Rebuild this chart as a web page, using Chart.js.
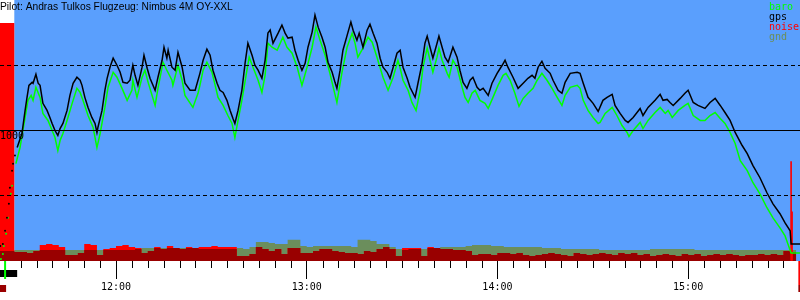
<!DOCTYPE html>
<html>
<head>
<meta charset="utf-8">
<script src="https://cdn.jsdelivr.net/npm/chart.js@4.4.1/dist/chart.umd.min.js"></script>
<style>
  html, body { margin: 0; padding: 0; background: #fff; }
  canvas { display: block; }
</style>
</head>
<body>
<canvas id="baro" width="800" height="300"></canvas>
<script>
// barogram, times are minutes since midnight, heights in metres
const title = 'Pilot: Andras Tulkos Flugzeug: Nimbus 4M OY-XXL';
const legendNames = ['baro', 'gps', 'noise', 'gnd'];

const gps = [
  [688.9,869],[690.4,977],[691.4,1154],[692.0,1254],[692.6,1346],[693.6,1369],[693.9,1362],[694.8,1431],[695.5,1362],[696.1,1346],
  [696.7,1254],[697.0,1208],[698.3,1154],[699.2,1100],[699.9,1054],[700.8,1000],[701.7,962],[702.4,1015],[703.3,1054],[704.6,1154],
  [705.5,1269],[706.5,1362],[707.7,1408],[708.7,1385],[709.3,1346],[710.2,1254],[711.2,1177],[712.4,1100],[713.4,1054],[714.0,985],
  [714.3,1023],[715.6,1154],[716.5,1308],[717.2,1400],[718.1,1485],[719.1,1554],[720.3,1500],[721.3,1446],[722.2,1369],[723.5,1362],
  [724.4,1385],[725.3,1500],[726.0,1423],[726.9,1346],[728.2,1485],[728.8,1577],[729.8,1477],[730.7,1400],[732.3,1308],[733.2,1408],
  [734.5,1538],[735.1,1638],[736.0,1554],[736.4,1615],[737.6,1485],[738.6,1462],[739.5,1600],[740.8,1485],[741.7,1362],[743.3,1308],
  [744.9,1308],[746.4,1438],[747.4,1538],[748.6,1623],[749.6,1577],[750.5,1462],[751.8,1362],[752.7,1308],[753.7,1292],[754.9,1231],
  [755.9,1154],[756.8,1092],[757.4,1054],[758.4,1154],[759.6,1308],[760.6,1515],[761.5,1669],[762.8,1577],[763.7,1500],[764.7,1462],
  [765.9,1400],[766.9,1538],[767.8,1746],[768.5,1769],[769.4,1669],[771.0,1746],[772.2,1808],[773.2,1746],[774.1,1708],[775.4,1715],
  [776.3,1615],[777.3,1538],[778.5,1462],[779.5,1515],[780.4,1638],[781.7,1754],[782.6,1885],[783.6,1792],[784.8,1715],[785.8,1638],
  [786.7,1523],[788.0,1446],[788.9,1369],[789.5,1323],[790.5,1462],[791.4,1615],[793.0,1754],[793.9,1831],[794.6,1769],[795.8,1692],
  [796.5,1746],[797.7,1638],[799.0,1769],[799.9,1815],[800.9,1746],[802.1,1669],[803.1,1554],[804.0,1485],[805.3,1446],[806.2,1400],
  [807.2,1485],[808.4,1592],[809.4,1615],[810.3,1485],[811.6,1400],[812.5,1331],[814.1,1254],[815.0,1362],[816.3,1515],[817.2,1669],
  [817.9,1723],[818.8,1638],[819.7,1554],[821.0,1669],[821.6,1723],[822.6,1638],[823.5,1562],[824.5,1523],[825.7,1615],[826.0,1638],
  [827.3,1562],[828.2,1462],[829.2,1369],[830.4,1323],[831.4,1385],[832.3,1408],[833.6,1331],[834.5,1308],[835.5,1323],[837.1,1269],
  [838.3,1362],[839.9,1438],[841.5,1500],[842.4,1538],[843.3,1485],[844.9,1408],[846.5,1323],[848.1,1362],[849.6,1400],[850.9,1423],
  [851.8,1400],[852.8,1485],[854.0,1531],[855.0,1477],[856.6,1438],[857.5,1385],[859.1,1308],[860.3,1285],[861.3,1369],[862.9,1438],
  [865.1,1446],[866.0,1438],[867.0,1362],[868.5,1254],[870.1,1208],[871.7,1146],[873.2,1231],[874.5,1254],[876.1,1277],[877.0,1192],
  [878.6,1131],[880.2,1077],[881.1,1062],[882.7,1100],[884.9,1169],[885.8,1115],[887.4,1177],[889.6,1231],[891.2,1277],[892.1,1231],
  [893.4,1238],[894.3,1215],[895.3,1192],[897.5,1246],[899.0,1285],[900.0,1308],[901.6,1215],[903.1,1192],[905.3,1169],[906.9,1215],
  [908.5,1246],[910.1,1192],[911.6,1138],[913.2,1077],[914.8,985],[917.0,885],[918.6,823],[920.4,731],[922.6,638],[924.8,523],
  [926.7,438],[928.9,362],[930.5,292],[932.1,231],[932.4,131],[935.2,131]
];

const baro = [
  [688.5,746],[689.8,869],[691.4,1100],[692.3,1231],[693.3,1269],[693.9,1231],[694.8,1331],[696.1,1254],[697.0,1131],[698.6,1077],
  [699.9,1000],[700.8,946],[701.7,846],[702.4,923],[703.3,977],[704.6,1077],[706.2,1208],[707.7,1323],[708.7,1292],[709.6,1231],
  [711.2,1115],[712.8,1023],[714.0,869],[715.0,977],[716.5,1177],[717.5,1331],[719.1,1446],[720.3,1408],[721.9,1323],[723.5,1231],
  [725.0,1308],[725.3,1385],[726.6,1254],[728.2,1408],[729.1,1462],[730.1,1369],[732.3,1192],[733.2,1323],[734.8,1523],[736.0,1462],
  [737.6,1385],[737.9,1346],[739.5,1500],[740.8,1385],[741.7,1269],[744.2,1177],[745.8,1285],[746.4,1346],[747.4,1462],[748.6,1523],
  [750.2,1446],[751.2,1346],[752.1,1254],[753.7,1192],[755.2,1115],[756.5,1054],[757.4,946],[758.4,1077],[759.6,1231],[761.2,1462],
  [761.9,1562],[763.1,1485],[764.7,1385],[765.9,1292],[766.9,1423],[767.8,1669],[769.1,1638],[770.7,1615],[772.5,1715],[773.8,1638],
  [775.4,1592],[777.0,1485],[778.5,1346],[780.1,1485],[781.7,1638],[782.9,1792],[784.2,1692],[785.8,1577],[787.3,1438],[789.5,1215],
  [791.1,1446],[792.7,1638],[794.3,1746],[795.2,1669],[796.1,1562],[797.7,1631],[799.3,1715],[800.6,1677],[802.1,1562],[804.0,1408],
  [805.6,1308],[807.2,1408],[808.7,1538],[809.4,1477],[810.3,1385],[811.9,1308],[813.1,1215],[814.4,1154],[815.7,1308],[816.6,1485],
  [817.9,1631],[818.8,1538],[819.7,1446],[821.0,1562],[821.6,1631],[822.6,1538],[824.2,1438],[824.8,1408],[826.0,1538],[827.3,1485],
  [828.9,1331],[829.8,1254],[830.8,1215],[832.0,1285],[833.0,1308],[834.5,1231],[836.1,1208],[837.1,1169],[838.6,1254],[840.2,1346],
  [841.8,1423],[842.7,1438],[844.0,1385],[845.5,1285],[846.8,1185],[848.1,1246],[849.6,1285],[851.2,1323],[852.5,1385],[854.0,1438],
  [855.6,1385],[857.2,1323],[858.8,1254],[860.3,1192],[861.3,1269],[862.9,1331],[865.1,1346],[866.0,1323],[867.0,1231],[868.5,1154],
  [870.1,1100],[871.7,1054],[872.3,1062],[873.9,1131],[876.1,1177],[877.6,1115],[879.2,1038],[880.8,985],[881.4,954],[882.7,1000],
  [884.9,1062],[885.8,1015],[887.4,1077],[889.6,1138],[891.2,1177],[892.8,1131],[893.7,1154],[895.0,1100],[896.9,1154],[899.0,1192],
  [900.0,1208],[901.6,1115],[903.8,1077],[905.3,1077],[906.9,1115],[908.5,1138],[910.1,1092],[911.6,1054],[913.2,985],[914.8,900],
  [916.4,769],[918.6,692],[920.4,600],[922.6,515],[924.8,408],[926.7,331],[928.9,254],[930.5,192],[931.4,131],[932.4,62],[935.2,62]
];

// sparse fixes during the engine climb, drawn as dots
const climbGps = [[683.6,115],[684.4,131],[685.1,231],[685.7,331],[686.3,438],[686.6,562],[687.3,692],[687.6,746],[688.2,808]];
const climbBaro = [[683.8,15],[684.4,54],[684.7,115],[685.4,208],[686.0,331],[686.9,515],[687.3,577]];

// noise and ground, one sample every 2 minutes from 11:22
const sampleStart = 682;
const sampleStep = 2;
const noise = [
  1823,1823,1823,69,69,62,77,123,131,123,
  108,46,46,62,131,123,46,92,100,115,
  123,108,100,62,77,108,92,115,100,92,
  108,100,108,108,115,108,108,108,38,38,
  54,108,92,77,92,54,100,100,62,62,
  77,92,92,77,69,62,62,54,77,69,
  92,108,92,38,100,100,100,38,108,100,
  92,92,85,85,77,46,54,54,46,62,
  62,54,62,46,38,46,54,62,54,46,
  38,62,54,46,54,62,54,46,62,54,
  62,46,54,38,46,54,46,38,54,46,
  54,38,46,54,46,54,46,38,46,46,
  54,46,54,46,77,69,54
];
const gnd = [
  77,77,77,85,85,85,85,85,85,85,
  85,85,85,85,85,85,85,85,85,85,
  85,85,92,100,100,100,100,100,100,100,
  100,100,92,92,92,92,92,92,100,92,
  108,146,146,138,131,131,162,162,115,108,
  115,115,115,115,115,115,108,162,162,154,
  131,131,108,92,85,92,92,92,100,100,
  108,108,108,108,115,123,123,123,115,115,
  108,108,108,108,108,108,100,100,100,92,
  92,92,92,92,92,85,85,85,85,85,
  85,85,85,92,92,92,92,92,92,92,
  85,85,85,85,85,85,85,85,85,85,
  85,85,85,85,85,85,85
];
// noise burst at landing
const noiseSpike = [[932.4,762],[932.7,377]];

const viewStart = 683.5, viewEnd = 935.2;
const flightStart = 688;          // blue background starts here
const engineRun = [683.5, 688.9]; // bar under the axis
const takeoffAt = 685.1;
const landingAt = 935;

const BLUE = '#5a9ffd', OLIVE = '#6b8e5c', DARKRED = '#990000';

const pairs = arr => arr.map(p => ({x: p[0], y: p[1]}));
const sampled = arr => arr.map((v, i) => ({x: sampleStart + i * sampleStep, y: v}));
const overlap = noise.map((v, i) => Math.min(v, gnd[i]));

const fmtTime = v => Math.floor(v / 60) + ':' + String(v % 60).padStart(2, '0');

const barogram = {
  id: 'barogram',
  beforeDraw(chart) {
    const {ctx, chartArea: a, scales: {x}} = chart;
    ctx.save();
    ctx.fillStyle = '#fff';
    ctx.fillRect(0, 0, chart.width, chart.height);
    const x0 = x.getPixelForValue(flightStart);
    ctx.fillStyle = BLUE;
    ctx.fillRect(x0, a.top, a.right - x0, a.bottom - a.top);
    ctx.restore();
  },
  afterDraw(chart) {
    const {ctx, chartArea: a, scales: {x}} = chart;
    ctx.save();
    // minor ticks every 5 minutes
    ctx.strokeStyle = '#000';
    ctx.lineWidth = 1;
    ctx.beginPath();
    for (let m = Math.ceil(viewStart / 5) * 5; m <= viewEnd; m += 5) {
      if (m % 60 === 0) continue;
      const px = Math.round(x.getPixelForValue(m)) + 0.5;
      ctx.moveTo(px, a.bottom);
      ctx.lineTo(px, a.bottom + 7);
    }
    ctx.stroke();

    // engine / takeoff / landing marks under the axis
    const e0 = x.getPixelForValue(engineRun[0]), e1 = x.getPixelForValue(engineRun[1]);
    ctx.fillStyle = '#000';
    ctx.fillRect(e0, a.bottom + 9, e1 - e0, 7);
    ctx.fillStyle = DARKRED;
    ctx.fillRect(e0, a.bottom + 24, x.getPixelForValue(takeoffAt) - e0 + 1, 7);
    ctx.fillStyle = '#00ff00';
    ctx.fillRect(x.getPixelForValue(takeoffAt) - 1, a.bottom, 2, 18);
    ctx.fillStyle = '#ff0000';
    ctx.fillRect(x.getPixelForValue(landingAt) - 1, a.bottom, 2, 24);
    ctx.fillStyle = DARKRED;
    ctx.fillRect(x.getPixelForValue(landingAt) - 1, a.bottom + 24, 2, 7);

    // title
    ctx.fillStyle = '#000';
    ctx.font = '10.25px "Liberation Sans", Arial, sans-serif';
    ctx.textBaseline = 'alphabetic';
    ctx.textAlign = 'left';
    ctx.fillText(title, 0, 10);

    // legend
    ctx.font = '10px "DejaVu Sans Mono", monospace';
    legendNames.forEach((name, i) => {
      const ds = chart.data.datasets.find(d => d.label === name);
      ctx.fillStyle = ds.legendColor;
      ctx.fillText(name, 769, 10 + i * 10);
    });
    ctx.restore();
  }
};

Chart.defaults.font.family = '"DejaVu Sans Mono", monospace';
Chart.defaults.font.size = 10;
Chart.defaults.color = '#000';

new Chart(document.getElementById('baro'), {
  type: 'line',
  data: {
    datasets: [
      {label: 'gps', legendColor: '#000', data: pairs(gps), borderColor: '#000', borderWidth: 1.5, pointRadius: 0, tension: 0},
      {label: 'baro', legendColor: '#00ff00', data: pairs(baro), borderColor: '#00ff00', borderWidth: 1.5, pointRadius: 0, tension: 0},
      {label: 'gpsClimb', data: pairs(climbGps), showLine: false, pointRadius: 1, pointBorderWidth: 0, pointBackgroundColor: '#000'},
      {label: 'baroClimb', data: pairs(climbBaro), showLine: false, pointRadius: 1, pointBorderWidth: 0, pointBackgroundColor: '#00ff00'},
      {type: 'bar', label: 'spike', data: pairs(noiseSpike), backgroundColor: '#ff0000', barThickness: 1},
      {label: 'overlap', data: sampled(overlap), stepped: true, fill: 'origin', backgroundColor: DARKRED, borderWidth: 0, pointRadius: 0},
      {label: 'noise', legendColor: '#ff0000', data: sampled(noise), stepped: true, fill: 'origin', backgroundColor: '#ff0000', borderWidth: 0, pointRadius: 0},
      {label: 'gnd', legendColor: OLIVE, data: sampled(gnd), stepped: true, fill: 'origin', backgroundColor: OLIVE, borderWidth: 0, pointRadius: 0}
    ]
  },
  options: {
    responsive: false,
    animation: false,
    devicePixelRatio: 1,
    layout: {padding: 0, autoPadding: false},
    plugins: {legend: {display: false}, tooltip: {enabled: false}, title: {display: false}},
    scales: {
      x: {
        type: 'linear',
        min: viewStart,
        max: viewEnd,
        offset: false,
        afterFit(s) { s.height = 39; },
        border: {display: false},
        grid: {offset: false, drawOnChartArea: false, tickLength: 18, color: '#000', tickColor: '#000'},
        ticks: {stepSize: 60, includeBounds: false, autoSkip: false, maxRotation: 0, padding: 2, callback: fmtTime}
      },
      y: {
        min: 0,
        max: 2000,
        afterFit(s) { s.width = 0; s.paddingTop = 0; s.paddingBottom = 0; },
        border: {display: false, dash: ctx => (ctx.tick && ctx.tick.value === 1000) ? [] : [4, 3]},
        grid: {
          z: 1,
          drawTicks: false,
          color: ctx => (ctx.tick.value > 0 && ctx.tick.value < 2000) ? '#000' : 'rgba(0,0,0,0)'
        },
        ticks: {
          z: 1,
          stepSize: 500, mirror: true, padding: 0, labelOffset: 6,
          callback: v => v === 1000 ? '1000' : ''
        }
      }
    }
  },
  plugins: [barogram]
});
</script>
</body>
</html>
